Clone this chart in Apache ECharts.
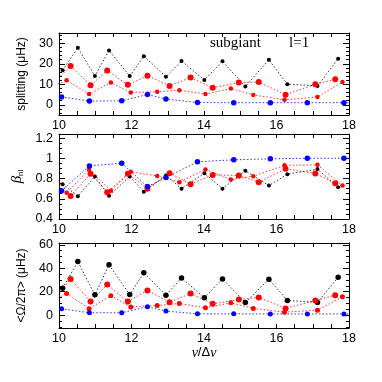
<!DOCTYPE html>
<html>
<head>
<meta charset="utf-8">
<script src="https://cdn.jsdelivr.net/npm/echarts@6/dist/echarts.min.js"></script>
<style>html,body{margin:0;padding:0;background:#fff}#chart{width:382px;height:382px}</style>
</head>
<body>
<div id="chart"></div>
<script>
// mode positions (nu / delta nu) for each model
const xBlack    = [10.10, 10.52, 10.99, 11.38, 11.95, 12.34, 12.95, 13.38, 14.01, 14.51, 15.14, 15.79, 16.30, 17.13, 17.70];
const xRedBig   = [9.78, 10.32, 10.87, 11.33, 11.90, 12.44, 13.05, 13.63, 14.24, 14.96, 15.51, 16.25, 17.07, 17.62];
const xRedSmall = [9.70, 10.21, 10.83, 11.43, 11.98, 12.71, 13.32, 14.04, 14.74, 15.36, 16.22, 17.13, 17.82];
const xBlue     = [10.07, 10.84, 11.73, 12.44, 12.95, 13.82, 14.82, 15.83, 16.85, 17.86, 18.85];

// top panel: splitting (muHz)
const splitBlack    = [16.8, 27.8, 14.0, 26.5, 14.0, 23.7, 13.7, 21.3, 12.1, 21.2, 8.9, 21.9, 10.0, 9.2, 22.4];
const splitRedBig   = [9.3, 18.9, 9.5, 16.7, 9.7, 14.2, 9.2, 13.3, 8.3, 10.8, 11.1, 4.9, 10.0, 12.4];
const splitRedSmall = [8.0, 11.9, 5.2, 10.8, 6.0, 6.3, 7.1, 5.2, 7.9, 4.8, 2.4, 3.8, 11.1];
const splitBlue     = [3.8, 1.8, 1.9, 5.0, 2.8, 1.1, 1.0, 1.0, 1.0, 1.0, 1.0];

// middle panel: beta_nl
const betaBlack    = [0.744, 0.625, 0.82, 0.631, 0.82, 0.67, 0.83, 0.70, 0.853, 0.70, 0.876, 0.73, 0.843, 0.893, 0.714];
const betaRedBig   = [0.87, 0.628, 0.846, 0.665, 0.846, 0.70, 0.853, 0.744, 0.836, 0.83, 0.764, 0.896, 0.85, 0.754];
const betaRedSmall = [0.80, 0.66, 0.89, 0.68, 0.866, 0.826, 0.764, 0.89, 0.79, 0.823, 0.93, 0.935, 0.73];
const betaBlue     = [0.68, 0.925, 0.952, 0.72, 0.81, 0.965, 0.985, 0.995, 1.0, 1.0, 1.0];

// bottom panel: <Omega/2pi> (muHz)
const omegaBlack    = [23.0, 45.7, 17.3, 42.9, 17.5, 36.2, 17.0, 31.7, 14.7, 30.9, 10.8, 30.6, 12.5, 10.8, 32.3];
const omegaRedBig   = [9.5, 30.8, 11.6, 26.0, 11.6, 21.0, 11.0, 18.4, 9.6, 13.3, 15.0, 5.7, 12.5, 17.0];
const omegaRedSmall = [10.0, 18.5, 5.5, 16.5, 7.0, 8.2, 9.9, 6.2, 10.5, 5.7, 2.5, 4.2, 15.6];
const omegaBlue     = [5.4, 2.0, 2.0, 7.1, 3.4, 1.1, 1.1, 1.0, 1.0, 1.0, 1.0];

// tick labels
const xLabels = [10, 12, 14, 16, 18];
const yLabels = [[0, 10, 20, 30], [0.4, 0.6, 0.8, 1, 1.2], [0, 20, 40, 60]];

function steps(a, b, d) {
  const out = [];
  for (let v = a; v <= b + 1e-9; v += d) out.push(Math.round(v * 1000) / 1000);
  return out;
}
const xTicks = steps(10, 18, 0.5);
const yMinor = [steps(-4, 34, 2), steps(0.4, 1.2, 0.05), steps(-10, 60, 5)];

const panels = [
  { top: 33, height: 82, min: -5, max: 35, name: 'splitting (μHz)' },
  { top: 134, height: 85, min: 0.4, max: 1.24, name: '{b|β}{s|nl}' },
  { top: 243, height: 85, min: -11, max: 61.5, name: '<Ω/2π> (μHz)' }
];

const font = 'Liberation Sans';
const black = '#000';

const grid = [], xAxis = [], yAxis = [], series = [];
const majorY = [];

panels.forEach(function (p, g) {
  grid.push({ left: 59, width: 290, top: p.top, height: p.height });
  ['bottom', 'top'].forEach(function (pos) {
    const ax = {
      gridIndex: g, type: 'value', min: 10, max: 18, position: pos,
      axisLine: { show: true, onZero: false, lineStyle: { color: black, width: 1 } },
      axisTick: { show: true, inside: true, length: 4, customValues: xTicks, lineStyle: { color: black } },
      axisLabel: { show: pos === 'bottom', customValues: xLabels, margin: 4, color: black, fontSize: 12.5, fontFamily: font },
      splitLine: { show: false }
    };
    if (g === 2 && pos === 'bottom') {
      ax.name = '{i|ν}/Δ{i|ν}';
      ax.nameLocation = 'middle';
      ax.nameGap = 17;
      ax.nameTextStyle = {
        color: black, fontSize: 13, fontFamily: font,
        rich: { i: { fontStyle: 'italic', fontFamily: 'Liberation Serif', fontSize: 14, color: black } }
      };
    }
    xAxis.push(ax);
  });
  ['left', 'right'].forEach(function (pos) {
    const major = {
      gridIndex: g, type: 'value', min: p.min, max: p.max, position: pos,
      axisLine: { show: true, onZero: false, lineStyle: { color: black, width: 1 } },
      axisTick: { show: true, inside: true, length: 6, customValues: yLabels[g], lineStyle: { color: black } },
      axisLabel: { show: pos === 'left', customValues: yLabels[g], margin: 6, color: black, fontSize: 12.5, fontFamily: font },
      splitLine: { show: false }
    };
    if (pos === 'left') {
      major.name = p.name;
      major.nameLocation = 'middle';
      major.nameRotate = 90;
      major.nameGap = 31;
      major.nameTextStyle = {
        color: black, fontSize: 12, fontFamily: font,
        rich: {
          b: { fontStyle: 'italic', fontFamily: 'Liberation Serif', fontSize: 15, color: black },
          s: { fontSize: 8, color: black, verticalAlign: 'bottom', padding: [6, 0, 0, 0] }
        }
      };
      majorY.push(yAxis.length);
    }
    yAxis.push(major);
    yAxis.push({
      gridIndex: g, type: 'value', min: p.min, max: p.max, position: pos,
      axisLine: { show: false, onZero: false },
      axisTick: { show: true, inside: true, length: 3, customValues: yMinor[g], lineStyle: { color: black } },
      axisLabel: { show: false },
      splitLine: { show: false }
    });
  });
});

function pts(xs, ys) {
  return xs.map(function (x, i) { return [x, ys[i]]; });
}

const sets = [
  [splitBlack, splitRedSmall, splitRedBig, splitBlue],
  [betaBlack, betaRedSmall, betaRedBig, betaBlue],
  [omegaBlack, omegaRedSmall, omegaRedBig, omegaBlue]
];
const xs = [xBlack, xRedSmall, xRedBig, xBlue];
const colors = ['#000000', '#ff0000', '#ff0000', '#0000ff'];
const sizes = [[4, 4.5, 6, 5.5], [4, 4.5, 6, 5.5], [5.5, 5, 6, 5]];

sets.forEach(function (ys, g) {
  ys.forEach(function (vals, k) {
    series.push({
      type: 'line',
      xAxisIndex: g * 2,
      yAxisIndex: majorY[g],
      data: pts(xs[k], vals),
      symbol: 'circle',
      symbolSize: sizes[g][k],
      showAllSymbol: true,
      clip: true,
      animation: false,
      itemStyle: { color: colors[k] },
      lineStyle: { color: colors[k], width: 1, opacity: 0.8, type: [1.5, 2] }
    });
  });
});

const chart = echarts.init(document.getElementById('chart'));
chart.setOption({
  backgroundColor: '#fff',
  animation: false,
  grid: grid,
  xAxis: xAxis,
  yAxis: yAxis,
  series: series,
  graphic: [
    { type: 'text', left: 210, top: 36, style: { text: 'subgiant', font: '15px "Liberation Serif"', fill: black } },
    { type: 'text', left: 289, top: 36, style: { text: 'l=1', font: '15px "Liberation Serif"', fill: black } }
  ]
});
</script>
</body>
</html>
